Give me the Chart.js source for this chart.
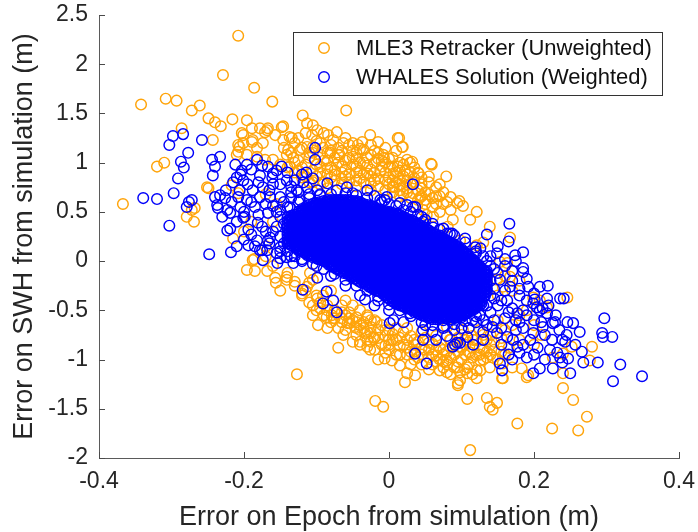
<!DOCTYPE html>
<html>
<head>
<meta charset="utf-8">
<script src="https://cdn.jsdelivr.net/npm/chart.js@4.4.1/dist/chart.umd.min.js"></script>
<style>
  html, body { margin: 0; padding: 0; background: #fff; }
  canvas { display: block; }
</style>
</head>
<body>
<canvas id="scatterChart" width="698" height="532"></canvas>
<script>
const seriesLabels = ['MLE3 Retracker (Unweighted)', 'WHALES Solution (Weighted)'];
const xTicks = [-0.4, -0.2, 0, 0.2, 0.4];
const yTicks = [-2, -1.5, -1, -0.5, 0, 0.5, 1, 1.5, 2, 2.5];

// MLE3, scattered points [epoch error, swh error]
const mle3Outer = [
  [-0.208,2.29],[-0.229,1.89],[-0.186,1.76],[-0.161,1.62],[-0.342,1.59],[-0.308,1.65],[-0.293,1.63],[-0.272,1.53],
  [-0.261,1.58],[-0.249,1.45],[-0.240,1.41],[-0.232,1.37],[-0.216,1.44],[-0.196,1.43],[-0.286,1.35],[-0.243,1.23],
  [-0.201,1.28],[-0.189,1.35],[-0.178,1.35],[-0.168,1.33],[-0.146,1.37],[-0.157,1.28],[-0.119,1.48],[-0.105,1.38],
  [-0.099,1.33],[-0.106,1.28],[-0.059,1.53],[-0.320,0.96],[-0.310,1.00],[-0.367,0.58],[-0.269,0.40],[-0.272,0.52],
  [-0.249,0.74],[-0.206,1.16],[-0.210,1.08],[-0.188,1.23],[-0.174,1.20],[-0.182,1.15],[-0.215,0.23],[-0.188,0.01],
  [-0.203,1.30],[-0.208,1.18],[-0.201,1.20],[-0.189,1.21],[-0.171,1.31],[-0.167,1.35],[-0.148,1.36],[-0.146,1.23],
  [-0.137,1.26],[-0.130,1.20],[-0.123,1.13],[-0.113,1.40],[-0.095,1.20],[-0.084,1.28],[-0.077,1.23],[-0.072,1.31],
  [-0.063,1.20],[-0.050,1.20],[-0.043,1.18],[-0.037,1.21],[-0.026,1.28],[-0.015,1.21],[-0.008,1.08],[0.012,1.25],
  [0.018,1.16],[0.025,1.03],[0.029,1.00],[0.012,0.96],[0.029,0.90],[0.006,0.89],[-0.012,0.92],[-0.030,0.89],
  [-0.040,1.00],[-0.050,1.06],[-0.068,1.08],[-0.081,1.10],[-0.091,1.15],[-0.113,1.16],[-0.132,1.05],[-0.141,1.08],
  [-0.137,0.96],[-0.150,0.98],[-0.160,1.03],[-0.171,1.03],[-0.182,1.06],[-0.196,1.08],[-0.208,1.11],[-0.251,0.75],
  [-0.268,0.54],[-0.279,0.45],[-0.134,1.25],[-0.139,1.13],[-0.217,0.77],[-0.208,0.69],[-0.196,-0.09],[-0.185,-0.10],
  [-0.168,-0.10],[-0.157,-0.17],[-0.141,-0.16],[-0.17,0.68],[-0.155,0.58],[-0.19,0.40],[-0.16,0.40],[-0.20,0.30],
  [-0.17,0.15],
  [0.014,1.25],[0.019,1.16],[-0.007,1.05],[0.032,1.01],[0.022,0.92],[0.041,0.89],[0.059,0.98],[0.079,0.86],
  [0.006,0.75],[0.015,0.72],[0.025,0.82],[0.033,0.69],[0.043,0.65],[0.050,0.62],[0.039,0.57],[0.047,0.52],
  [0.097,0.61],[0.102,0.56],[0.121,0.50],[0.112,0.42],[0.088,0.42],[0.081,0.35],[0.139,0.35],[0.167,0.24],
  [0.061,0.45],[0.052,0.47],[0.058,0.99],[0.094,0.59],[0.098,0.21],[0.121,0.16],[0.130,0.19],
  [0.153,-0.01],[0.163,-0.02],[0.167,-0.16],[0.149,-0.19],[0.157,-0.26],[0.199,-0.37],[0.208,-0.40],[0.218,-0.47],
  [0.246,-0.37],[0.280,-0.87],[0.277,-1.01],[0.240,-0.94],[0.226,-0.98],[0.252,-0.87],[0.084,-0.80],[0.098,-0.87],
  [0.112,-0.93],[0.126,-1.01],[0.139,-1.08],[0.080,-1.01],[0.094,-1.08],[0.108,-1.14],[0.121,-1.11],[0.135,-0.98],
  [0.116,-0.80],[0.080,-0.67],[0.102,-0.70],[0.157,-1.04],[0.170,-1.08],[0.183,-1.09],
  [0.240,-1.29],[0.254,-1.41],[0.273,-1.58],[0.261,-1.72],[0.225,-1.70],[0.177,-1.65],[0.112,-1.92],[0.135,-1.39],
  [0.139,-1.48],[0.143,-1.51],[0.149,-1.44],[0.108,-1.40],[-0.019,-1.42],[-0.008,-1.48],[0.192,-1.16],[0.190,-1.18],
  [0.156,-1.19],[0.095,-1.26],[0.098,-1.21],[0.240,-1.14],[-0.127,-1.15],
  [-0.098,-0.65],[-0.070,-0.88],[-0.063,-0.75],[-0.050,-0.82],[-0.054,-0.63],[-0.040,-0.70],[-0.079,-0.55],[-0.086,-0.57],
  [-0.030,-0.87],[-0.026,-0.90],[-0.006,-0.99],[0.004,-1.01],[0.015,-1.06],[0.025,-1.14],[0.022,-1.23],[0.036,-1.16],
  [0.070,-1.11],[0.080,-1.13],[0.098,-1.13],[0.095,-1.24],[0.108,-1.08],[0.126,-1.11],[0.121,-1.19],[0.143,-0.98],
  [0.157,-1.19],[-0.186,0.02],[-0.156,-0.22],[-0.141,-0.19],[-0.130,-0.21],[-0.120,-0.33],[-0.099,-0.38],[-0.091,-0.35],
  [-0.077,-0.58],[-0.109,-0.12],[-0.105,-0.19],[-0.113,-0.26],[-0.057,-0.63],[-0.047,-0.67],[-0.040,-0.85],[-0.033,-0.73],
  [-0.022,-0.77],[-0.029,-0.57],[-0.017,-0.62]
];

// MLE3, the thick clouds above and below the WHALES core
const mle3Dense = [
  [-0.11,1.05],[-0.10,0.98],[-0.09,1.02],[-0.08,0.95],[-0.07,1.00],[-0.06,0.93],[-0.05,0.98],[-0.04,0.92],
  [-0.03,0.97],[-0.02,0.90],[-0.01,0.96],[0.00,0.85],[0.01,0.80],[0.02,0.76],[0.03,0.78],[0.04,0.72],
  [0.05,0.70],[0.06,0.64],[0.07,0.66],[0.08,0.60],[-0.08,0.85],[-0.06,0.86],[-0.04,0.84],[-0.02,0.82],
  [0.00,0.78],[0.02,0.68],[0.03,0.64],[-0.09,0.80],[-0.10,0.86],[-0.12,0.95],[-0.13,0.90],[-0.11,0.80],
  [-0.07,1.08],[-0.05,1.12],[-0.03,1.05],[-0.02,1.12],[-0.01,1.02],[0.00,0.95],[0.01,0.90],[0.02,0.86],
  [-0.12,1.15],[-0.125,1.02],[-0.085,1.10],[0.04,0.62],[0.06,0.55],[0.07,0.50],[0.05,0.58],[-0.015,0.76],
  [0.005,0.70],[-0.035,0.80],[-0.055,0.80],
  [-0.145,1.15],[-0.135,1.10],[-0.125,1.25],[-0.115,1.30],[-0.105,1.10],[-0.10,1.22],[-0.09,1.30],[-0.08,1.18],
  [-0.07,1.15],[-0.06,1.25],[-0.055,1.05],[-0.045,1.10],[-0.035,1.13],[-0.025,1.18],[-0.015,1.10],[-0.005,1.15],
  [0.005,1.05],[0.01,1.12],[0.015,1.00],[0.035,0.95],[0.045,0.85],[0.055,0.80],[0.065,0.75],[0.075,0.70],
  [0.085,0.65],[0.045,0.78],[0.035,0.84],[-0.115,0.98],[-0.105,0.92],[-0.095,0.90],[-0.085,0.88],[-0.075,0.92],
  [-0.065,0.96],[-0.045,0.96],[-0.025,0.93],[-0.005,0.90],[0.005,0.82],[0.015,0.84],[-0.075,0.82],[-0.065,0.78],
  [-0.045,0.76],[-0.025,0.79],[-0.095,0.78],[-0.13,1.00],[-0.14,0.95],[-0.12,0.85],[0.025,0.70],[0.045,0.66],
  [0.065,0.58],[0.085,0.52],[0.075,0.58],
  [-0.105,1.16],[-0.095,1.08],[-0.085,1.02],[-0.075,1.05],[-0.065,1.12],[-0.055,1.18],[-0.045,1.04],[-0.035,1.00],
  [-0.025,1.08],[-0.015,1.04],[-0.005,1.00],[0.005,0.96],[0.015,0.92],[0.025,0.88],[0.035,0.80],[0.045,0.74],
  [0.055,0.68],[0.065,0.66],[-0.095,0.96],[-0.085,0.94],[-0.075,0.88],[-0.065,0.90],[-0.055,0.88],[-0.045,0.90],
  [-0.035,0.88],[-0.025,0.86],[-0.015,0.84],[-0.005,0.82],[0.005,0.76],[0.015,0.78],[0.025,0.74],[-0.065,0.84],
  [-0.045,0.82],[-0.025,0.72],[-0.005,0.72],[0.015,0.66],[-0.085,0.74],[-0.105,0.80],[-0.115,0.86],[-0.125,0.92],
  [-0.11,1.10],[-0.08,1.12],[-0.06,1.02],[-0.04,1.14],[-0.02,1.00],[0.00,1.04],[0.02,0.98],[0.04,0.90],
  [0.055,0.86],[0.07,0.78],
  [-0.12,-0.35],[-0.11,-0.42],[-0.10,-0.50],[-0.09,-0.55],[-0.08,-0.62],[-0.07,-0.68],[-0.06,-0.55],[-0.05,-0.60],
  [-0.04,-0.65],[-0.03,-0.72],[-0.02,-0.78],[-0.01,-0.85],[0.00,-0.90],[0.01,-0.80],[0.02,-0.85],[0.03,-0.92],
  [0.04,-0.98],[0.05,-0.90],[0.06,-0.95],[0.07,-1.00],[0.08,-1.05],[0.09,-0.95],[0.10,-1.00],[0.11,-1.05],
  [0.12,-0.95],[0.13,-0.90],[0.14,-0.85],[-0.06,-0.40],[-0.05,-0.45],[-0.04,-0.50],[-0.03,-0.55],[-0.02,-0.60],
  [-0.01,-0.65],[0.00,-0.70],[0.01,-0.68],[0.02,-0.72],[0.03,-0.76],[0.04,-0.82],[0.05,-0.78],[0.06,-0.84],
  [0.07,-0.88],[0.08,-0.92],[0.09,-1.08],[0.10,-0.88],[0.11,-0.92],[0.12,-0.80],[0.13,-0.75],[0.10,-0.75],
  [-0.02,-0.90],[0.00,-0.80],[-0.04,-0.82],[-0.015,-1.00],[0.03,-1.05],[0.06,-1.05],[-0.08,-0.30],[-0.10,-0.35],
  [-0.13,-0.25],[-0.14,-0.12],[-0.16,-0.05],[-0.17,0.05],[-0.15,-0.30],[-0.11,-0.22],[0.15,-0.60],[0.16,-0.70],
  [0.17,-0.65],[0.18,-0.55],[0.19,-0.50],[0.20,-0.65],[0.21,-0.75],[0.14,-0.95],[0.16,-0.95],[0.18,-0.80],
  [0.20,-0.85],[0.17,-0.30],[0.18,-0.20],[0.16,-0.15],[0.15,-0.35],
  [-0.115,-0.30],[-0.105,-0.45],[-0.095,-0.48],[-0.085,-0.45],[-0.075,-0.50],[-0.065,-0.45],[-0.055,-0.52],[-0.045,-0.57],
  [-0.035,-0.62],[-0.025,-0.67],[-0.015,-0.70],[-0.005,-0.76],[0.005,-0.74],[0.015,-0.78],[0.025,-0.80],[0.035,-0.85],
  [0.045,-0.88],[0.055,-0.83],[0.065,-0.90],[0.075,-0.95],[0.085,-0.98],[0.095,-0.92],[0.105,-0.95],[0.115,-0.98],
  [0.125,-0.88],[0.135,-0.80],[0.145,-0.90],[0.155,-0.78],[0.165,-0.88],[0.025,-0.95],[0.045,-1.05],[0.065,-1.02],
  [0.085,-1.15],[0.115,-1.15],[-0.005,-0.93],[-0.025,-0.82],[-0.045,-0.75],[-0.065,-0.62],[-0.085,-0.68],[-0.105,-0.55],
  [0.01,-0.95],[0.035,-1.00],[0.055,-1.10],[0.075,-1.08],[0.105,-1.10],[0.13,-1.00],[0.15,-1.00],[-0.06,-0.70],
  [-0.03,-0.80],[0.00,-0.85],
  [-0.095,-0.42],[-0.085,-0.50],[-0.075,-0.58],[-0.065,-0.52],[-0.055,-0.58],[-0.045,-0.62],[-0.035,-0.68],[-0.025,-0.73],
  [-0.015,-0.78],[-0.005,-0.70],[0.005,-0.80],[0.015,-0.86],[0.025,-0.88],[0.035,-0.92],[0.045,-0.95],[0.055,-0.98],
  [0.065,-0.96],[0.075,-0.90],[0.085,-0.88],[0.095,-1.02],[0.105,-0.85],[0.115,-0.88],[0.125,-0.95],[0.135,-0.92],
  [0.145,-0.82],[0.155,-0.92],[-0.005,-0.86],[0.015,-0.95],[0.035,-0.80],[0.055,-0.90],[0.075,-1.02],[0.095,-0.78],
  [0.115,-0.76],[-0.045,-0.68],[-0.025,-0.60],[-0.065,-0.58],[0.025,-0.68],[0.045,-0.72],[0.065,-0.76],[0.085,-0.80],
  [0.105,-0.80],[0.125,-0.70],[0.14,-0.75]
];

// WHALES, scattered points around the core
const whalesOuter = [
  [-0.339,0.64],[-0.320,0.63],[-0.303,0.36],[-0.297,0.69],[-0.291,0.84],[-0.283,0.95],[-0.287,1.01],[-0.277,1.10],
  [-0.303,1.18],[-0.298,1.27],[-0.284,1.29],[-0.258,1.23],[-0.276,0.60],[-0.272,0.62],[-0.279,0.55],[-0.248,0.07],
  [-0.218,0.09],[-0.244,1.03],[-0.233,1.06],[-0.240,0.96],[-0.243,0.87],[-0.240,0.65],[-0.233,0.67],[-0.236,0.54],
  [-0.219,0.49],[-0.223,0.31],[-0.212,0.98],[-0.203,0.92],[-0.196,0.98],[-0.182,1.03],[-0.167,0.96],[-0.148,0.96],
  [-0.210,0.85],[-0.201,0.82],[-0.178,0.87],[-0.161,0.85],[-0.141,0.82],[-0.226,0.64],[-0.217,0.60],[-0.208,0.65],
  [-0.219,0.33],[-0.201,0.44],[-0.194,0.32],[-0.194,0.16],[-0.175,0.11],[-0.167,0.21],[-0.102,1.15],[-0.102,1.03],
  [-0.114,0.90],[-0.237,0.57],[-0.223,0.52],[-0.206,0.72],[-0.196,0.62],[-0.188,0.72],[-0.174,0.75],[-0.178,0.65],
  [-0.164,0.65],[-0.199,0.45],[-0.181,0.39],[-0.167,0.49],[-0.150,0.45],[-0.137,0.55],[-0.123,0.62],[-0.127,0.72],
  [-0.113,0.75],[-0.099,0.72],[-0.085,0.79],[-0.072,0.72],[-0.058,0.75],[-0.050,0.69],[-0.030,0.72],[-0.012,0.62],
  [-0.003,0.65],[0.015,0.59],[0.033,0.55],[-0.182,0.21],[-0.164,0.24],[-0.168,0.11],[-0.150,0.14],[-0.141,0.04],
  [-0.174,0.01],[-0.154,-0.02],[-0.160,0.56],[-0.155,0.35],[-0.170,0.30],[-0.185,0.55],[-0.150,0.65],[-0.135,0.70],
  [-0.160,0.78],[-0.130,0.82],[-0.120,0.88],[-0.150,0.25],[-0.145,0.60],[-0.205,0.55],[-0.190,0.27],[-0.020,0.66],
  [0.000,0.58],[0.020,0.52],[0.040,0.47],[0.050,0.42],[-0.160,0.89],
  [-0.215,0.80],[-0.205,0.88],[-0.19,0.93],[-0.175,0.97],[-0.155,0.92],[-0.14,0.90],[-0.225,0.72],[-0.195,0.78],
  [-0.18,0.80],[-0.165,0.72],[-0.15,0.78],[-0.135,0.76],[-0.23,0.45],[-0.21,0.40],[-0.20,0.50],[-0.18,0.47],
  [-0.17,0.58],[-0.19,0.60],[-0.175,0.35],[-0.16,0.30],[-0.145,0.38],[-0.185,0.15],[-0.165,0.18],[-0.155,0.08],
  [-0.20,0.22],[-0.21,0.15],[-0.145,0.18],[-0.14,0.10],[-0.13,0.05],[-0.125,0.70],[-0.11,0.68],[-0.095,0.67],
  [-0.155,0.50],[-0.135,0.64],[-0.118,0.80],[-0.105,0.84],
  [-0.15,0.52],[-0.14,0.55],[-0.125,0.60],[-0.11,0.64],[-0.095,0.68],[-0.08,0.68],[-0.06,0.69],[-0.045,0.67],
  [-0.03,0.64],[-0.01,0.60],[0.01,0.56],[0.03,0.50],[0.045,0.45],[0.06,0.38],[0.075,0.33],[0.09,0.26],
  [0.105,0.19],[0.12,0.08],[0.135,0.00],[0.145,-0.08],
  [-0.15,0.10],[-0.135,0.05],[-0.12,0.02],[-0.105,-0.03],[-0.09,-0.08],[-0.075,-0.13],[-0.06,-0.19],[-0.045,-0.25],
  [-0.03,-0.30],[-0.015,-0.36],[0.00,-0.44],[0.015,-0.50],[0.03,-0.56],[0.045,-0.62],[0.06,-0.65],[0.075,-0.66],
  [0.09,-0.64],[0.105,-0.61],[0.12,-0.56],[0.135,-0.45],[0.145,-0.38],
  [0.166,0.38],[0.135,0.27],[0.149,0.08],[0.185,0.09],[0.174,0.06],[0.185,-0.07],[0.185,-0.11],[0.192,-0.26],
  [0.208,-0.26],[0.219,-0.25],[0.218,-0.38],[0.201,-0.39],[0.204,-0.47],[0.212,-0.48],[0.236,-0.38],[0.241,-0.38],
  [0.297,-0.58],[0.294,-0.73],[0.308,-0.77],[0.295,-0.77],[0.319,-1.05],[0.349,-1.17],[0.309,-1.22],[0.263,-0.72],
  [0.254,-0.63],[0.246,-0.62],[0.229,-0.62],[0.239,-0.80],[0.243,-0.82],[0.257,-0.85],[0.266,-0.92],[0.232,-0.93],
  [0.236,-0.98],[0.247,-0.99],[0.222,-0.90],[0.268,-1.03],[0.288,-1.03],[0.208,-1.09],[0.199,-1.14],[0.250,-1.14],
  [0.153,-1.04],[0.156,-1.11],[0.170,-1.00],[0.190,-0.98],[0.177,-0.87],[0.171,-0.80],[0.163,-0.77],[0.185,-0.50],
  [0.199,-0.43],[0.208,-0.50],[0.218,-0.53],[0.226,-0.63],[0.212,-0.67],[0.199,-0.73],[0.130,-0.72],[0.149,-0.73],
  [0.143,-0.67],[0.130,-0.60],[0.116,-0.85],[0.098,-0.83],[0.088,-0.87],[0.177,-0.53],[0.163,-0.40],[0.167,-0.26],
  [0.153,-0.19],[0.105,0.23],[0.119,0.14],[0.126,0.13],[0.080,0.28],[0.087,0.28],[0.052,-1.04],[0.036,-0.94],
  [0.091,-0.85],[0.108,-0.77],[0.001,-0.63],[0.029,-0.53],[0.047,-0.70],[0.239,-1.03],[0.226,-1.09],[0.033,0.78],
  [0.036,0.55],[0.025,0.57],[0.047,0.40],[-0.006,0.62],[0.015,0.47],[0.061,0.34],[0.070,0.32],[0.084,0.28],
  [0.14,-0.05],[0.15,-0.12],[0.16,-0.30],[0.14,-0.35],[0.15,-0.45],[0.17,-0.48],[0.16,-0.58],[0.18,-0.62],
  [0.14,-0.52],[0.12,-0.62],[0.11,-0.68],[0.13,-0.45],[0.14,-0.20],[0.17,-0.10],[0.16,0.02],[0.13,0.05],
  [0.12,0.10],[0.18,-0.35],[0.19,-0.55],[0.20,-0.60],[0.175,-0.70],[0.155,-0.85],[0.13,-0.80],[0.19,-0.18],
  [0.10,-0.68],[0.09,-0.70],[0.075,-0.68],[0.06,-0.72],[0.05,-0.65],[0.02,-0.62],[0.00,-0.50],[-0.02,-0.45],
  [-0.04,-0.35],[-0.06,-0.25],[-0.08,-0.15],[-0.10,-0.05],[-0.12,0.00],[0.065,-0.80],[0.08,-0.76],
  [0.135,-0.10],[0.145,-0.28],[0.155,-0.40],[0.165,-0.52],[0.175,-0.60],[0.185,-0.68],[0.195,-0.80],[0.205,-0.88],
  [0.215,-0.75],[0.225,-0.80],[0.235,-0.70],[0.245,-0.75],[0.17,-0.20],[0.18,-0.28],[0.19,-0.40],[0.20,-0.33],
  [0.21,-0.62],[0.22,-0.45],[0.23,-0.55],[0.145,-0.60],[0.155,-0.68],[0.125,-0.55],[0.115,-0.60],[0.135,-0.65],
  [0.16,-0.05],[0.175,0.00],[0.15,0.15],[0.165,0.20],[0.14,0.05],[0.185,-0.85],[0.20,-0.95],[0.215,-1.00],
  [0.18,-0.93],[0.165,-0.95],
  [-0.072,-0.52],[-0.091,-0.43],[0.006,-0.60],[0.047,-0.80],[0.094,-0.83],[-0.119,-0.29],[-0.099,-0.17],[-0.077,-0.40],
  [-0.086,-0.31],[-0.033,-0.39],[-0.015,-0.40],[-0.150,0.03],[-0.132,-0.02],[-0.178,0.11]
];

// WHALES, the solid core: each row is [epoch error, list of swh errors]
const whalesCore = [
  [-0.14, [0.44,0.41,0.37,0.34,0.30,0.27,0.23,0.20,0.18]],
  [-0.135, [0.46,0.44,0.41,0.37,0.34,0.30,0.27,0.23,0.20,0.16]],
  [-0.13, [0.47,0.44,0.40,0.37,0.33,0.30,0.26,0.23,0.19,0.16,0.14]],
  [-0.125, [0.50,0.48,0.45,0.41,0.38,0.34,0.31,0.27,0.24,0.20,0.17,0.13,0.11]],
  [-0.12, [0.53,0.50,0.46,0.43,0.39,0.36,0.32,0.29,0.25,0.22,0.18,0.15,0.11]],
  [-0.115, [0.55,0.53,0.50,0.46,0.43,0.39,0.36,0.32,0.29,0.25,0.22,0.18,0.15,0.11,0.08]],
  [-0.11, [0.57,0.54,0.50,0.47,0.43,0.40,0.36,0.33,0.29,0.26,0.22,0.19,0.15,0.12,0.08,0.06]],
  [-0.105, [0.58,0.56,0.53,0.49,0.46,0.42,0.39,0.35,0.32,0.28,0.25,0.21,0.18,0.14,0.11,0.07,0.04]],
  [-0.10, [0.59,0.56,0.52,0.49,0.45,0.42,0.38,0.35,0.31,0.28,0.24,0.21,0.17,0.14,0.10,0.07,0.03]],
  [-0.095, [0.60,0.58,0.55,0.51,0.48,0.44,0.41,0.37,0.34,0.30,0.27,0.23,0.20,0.16,0.13,0.09,0.06,0.02]],
  [-0.09, [0.61,0.58,0.54,0.51,0.47,0.44,0.40,0.37,0.33,0.30,0.26,0.23,0.19,0.16,0.12,0.09,0.05,0.02,0.00]],
  [-0.085, [0.62,0.60,0.57,0.53,0.50,0.46,0.43,0.39,0.36,0.32,0.29,0.25,0.22,0.18,0.15,0.11,0.08,0.04,0.01,-0.02]],
  [-0.08, [0.62,0.59,0.55,0.52,0.48,0.45,0.41,0.38,0.34,0.31,0.27,0.24,0.20,0.17,0.13,0.10,0.06,0.03,-0.01,-0.04]],
  [-0.075, [0.62,0.60,0.57,0.53,0.50,0.46,0.43,0.39,0.36,0.32,0.29,0.25,0.22,0.18,0.15,0.11,0.08,0.04,0.01,-0.03,-0.06]],
  [-0.07, [0.62,0.59,0.55,0.52,0.48,0.45,0.41,0.38,0.34,0.31,0.27,0.24,0.20,0.17,0.13,0.10,0.06,0.03,-0.01,-0.04,-0.08]],
  [-0.065, [0.62,0.60,0.57,0.53,0.50,0.46,0.43,0.39,0.36,0.32,0.29,0.25,0.22,0.18,0.15,0.11,0.08,0.04,0.01,-0.03,-0.06,-0.10]],
  [-0.06, [0.62,0.59,0.55,0.52,0.48,0.45,0.41,0.38,0.34,0.31,0.27,0.24,0.20,0.17,0.13,0.10,0.06,0.03,-0.01,-0.04,-0.08,-0.11]],
  [-0.055, [0.62,0.60,0.57,0.53,0.50,0.46,0.43,0.39,0.36,0.32,0.29,0.25,0.22,0.18,0.15,0.11,0.08,0.04,0.01,-0.03,-0.06,-0.10,-0.13]],
  [-0.05, [0.61,0.58,0.54,0.51,0.47,0.44,0.40,0.37,0.33,0.30,0.26,0.23,0.19,0.16,0.12,0.09,0.05,0.02,-0.02,-0.05,-0.09,-0.12,-0.16]],
  [-0.045, [0.61,0.59,0.56,0.52,0.49,0.45,0.42,0.38,0.35,0.31,0.28,0.24,0.21,0.17,0.14,0.10,0.07,0.03,0.00,-0.04,-0.07,-0.11,-0.14,-0.18]],
  [-0.04, [0.60,0.57,0.53,0.50,0.46,0.43,0.39,0.36,0.32,0.29,0.25,0.22,0.18,0.15,0.11,0.08,0.04,0.01,-0.03,-0.06,-0.10,-0.13,-0.17,-0.21]],
  [-0.035, [0.58,0.56,0.53,0.49,0.46,0.42,0.39,0.35,0.32,0.28,0.25,0.21,0.18,0.14,0.11,0.07,0.04,0.00,-0.03,-0.07,-0.10,-0.14,-0.17,-0.21]],
  [-0.03, [0.57,0.54,0.50,0.47,0.43,0.40,0.36,0.33,0.29,0.26,0.22,0.19,0.15,0.12,0.08,0.05,0.01,-0.02,-0.06,-0.09,-0.13,-0.16,-0.20,-0.24]],
  [-0.025, [0.56,0.54,0.51,0.47,0.44,0.40,0.37,0.33,0.30,0.26,0.23,0.19,0.16,0.12,0.09,0.05,0.02,-0.02,-0.05,-0.09,-0.12,-0.16,-0.19,-0.23,-0.26]],
  [-0.02, [0.55,0.52,0.48,0.45,0.41,0.38,0.34,0.31,0.27,0.24,0.20,0.17,0.13,0.10,0.06,0.03,-0.01,-0.04,-0.08,-0.11,-0.15,-0.18,-0.22,-0.25,-0.28]],
  [-0.015, [0.53,0.51,0.48,0.44,0.41,0.37,0.34,0.30,0.27,0.23,0.20,0.16,0.13,0.09,0.06,0.02,-0.01,-0.05,-0.08,-0.12,-0.15,-0.19,-0.22,-0.26,-0.30]],
  [-0.01, [0.52,0.49,0.45,0.42,0.38,0.35,0.31,0.28,0.24,0.21,0.17,0.14,0.10,0.07,0.03,0.00,-0.04,-0.07,-0.11,-0.14,-0.18,-0.21,-0.25,-0.28,-0.32]],
  [-0.005, [0.51,0.49,0.46,0.42,0.39,0.35,0.32,0.28,0.25,0.21,0.18,0.14,0.11,0.07,0.04,0.00,-0.03,-0.07,-0.10,-0.14,-0.17,-0.21,-0.24,-0.28,-0.31,-0.35]],
  [0.00, [0.50,0.47,0.43,0.40,0.36,0.33,0.29,0.26,0.22,0.19,0.15,0.12,0.08,0.05,0.01,-0.02,-0.06,-0.09,-0.13,-0.16,-0.20,-0.23,-0.27,-0.30,-0.34,-0.38]],
  [0.005, [0.49,0.47,0.44,0.40,0.37,0.33,0.30,0.26,0.23,0.19,0.16,0.12,0.09,0.05,0.02,-0.02,-0.05,-0.09,-0.12,-0.16,-0.19,-0.23,-0.26,-0.30,-0.33,-0.37,-0.41]],
  [0.01, [0.48,0.45,0.41,0.38,0.34,0.31,0.27,0.24,0.20,0.17,0.13,0.10,0.06,0.03,-0.01,-0.04,-0.08,-0.11,-0.15,-0.18,-0.22,-0.25,-0.29,-0.32,-0.36,-0.39,-0.43]],
  [0.015, [0.46,0.44,0.41,0.37,0.34,0.30,0.27,0.23,0.20,0.16,0.13,0.09,0.06,0.02,-0.01,-0.05,-0.08,-0.12,-0.15,-0.19,-0.22,-0.26,-0.29,-0.33,-0.36,-0.40,-0.43,-0.45]],
  [0.02, [0.45,0.42,0.38,0.35,0.31,0.28,0.24,0.21,0.17,0.14,0.10,0.07,0.03,0.00,-0.04,-0.07,-0.11,-0.14,-0.18,-0.21,-0.25,-0.28,-0.32,-0.35,-0.39,-0.42,-0.46]],
  [0.025, [0.43,0.41,0.38,0.34,0.31,0.27,0.24,0.20,0.17,0.13,0.10,0.06,0.03,-0.01,-0.04,-0.08,-0.11,-0.15,-0.18,-0.22,-0.25,-0.29,-0.32,-0.36,-0.39,-0.43,-0.46,-0.48]],
  [0.03, [0.42,0.39,0.35,0.32,0.28,0.25,0.21,0.18,0.14,0.11,0.07,0.04,0.00,-0.03,-0.07,-0.10,-0.14,-0.17,-0.21,-0.24,-0.28,-0.31,-0.35,-0.38,-0.42,-0.45,-0.49]],
  [0.035, [0.40,0.38,0.35,0.31,0.28,0.24,0.21,0.17,0.14,0.10,0.07,0.03,0.00,-0.04,-0.07,-0.11,-0.14,-0.18,-0.21,-0.25,-0.28,-0.32,-0.35,-0.39,-0.42,-0.46,-0.49,-0.52]],
  [0.04, [0.38,0.35,0.31,0.28,0.24,0.21,0.17,0.14,0.10,0.07,0.03,0.00,-0.04,-0.07,-0.11,-0.14,-0.18,-0.21,-0.25,-0.28,-0.32,-0.35,-0.39,-0.42,-0.46,-0.49,-0.53]],
  [0.045, [0.36,0.34,0.31,0.27,0.24,0.20,0.17,0.13,0.10,0.06,0.03,-0.01,-0.04,-0.08,-0.11,-0.15,-0.18,-0.22,-0.25,-0.29,-0.32,-0.36,-0.39,-0.43,-0.46,-0.50,-0.53,-0.55]],
  [0.05, [0.34,0.31,0.27,0.24,0.20,0.17,0.13,0.10,0.06,0.03,-0.01,-0.04,-0.08,-0.11,-0.15,-0.18,-0.22,-0.25,-0.29,-0.32,-0.36,-0.39,-0.43,-0.46,-0.50,-0.53,-0.56]],
  [0.055, [0.31,0.29,0.26,0.22,0.19,0.15,0.12,0.08,0.05,0.01,-0.02,-0.06,-0.09,-0.13,-0.16,-0.20,-0.23,-0.27,-0.30,-0.34,-0.37,-0.41,-0.44,-0.48,-0.51,-0.55,-0.58]],
  [0.06, [0.29,0.26,0.22,0.19,0.15,0.12,0.08,0.05,0.01,-0.02,-0.06,-0.09,-0.13,-0.16,-0.20,-0.23,-0.27,-0.30,-0.34,-0.37,-0.41,-0.44,-0.48,-0.51,-0.55,-0.59]],
  [0.065, [0.27,0.25,0.22,0.18,0.15,0.11,0.08,0.04,0.01,-0.03,-0.06,-0.10,-0.13,-0.17,-0.20,-0.24,-0.27,-0.31,-0.34,-0.38,-0.41,-0.45,-0.48,-0.52,-0.55,-0.59]],
  [0.07, [0.26,0.23,0.19,0.16,0.12,0.09,0.05,0.02,-0.02,-0.05,-0.09,-0.12,-0.16,-0.19,-0.23,-0.26,-0.30,-0.33,-0.37,-0.40,-0.44,-0.47,-0.51,-0.54,-0.58]],
  [0.075, [0.23,0.21,0.18,0.14,0.11,0.07,0.04,0.00,-0.03,-0.07,-0.10,-0.14,-0.17,-0.21,-0.24,-0.28,-0.31,-0.35,-0.38,-0.42,-0.45,-0.49,-0.52,-0.56,-0.60]],
  [0.08, [0.21,0.18,0.14,0.11,0.07,0.04,0.00,-0.03,-0.07,-0.10,-0.14,-0.17,-0.21,-0.24,-0.28,-0.31,-0.35,-0.38,-0.42,-0.45,-0.49,-0.52,-0.56,-0.58]],
  [0.085, [0.19,0.17,0.14,0.10,0.07,0.03,0.00,-0.04,-0.07,-0.11,-0.14,-0.18,-0.21,-0.25,-0.28,-0.32,-0.35,-0.39,-0.42,-0.46,-0.49,-0.53,-0.56,-0.59]],
  [0.09, [0.17,0.14,0.10,0.07,0.03,0.00,-0.04,-0.07,-0.11,-0.14,-0.18,-0.21,-0.25,-0.28,-0.32,-0.35,-0.39,-0.42,-0.46,-0.49,-0.53,-0.56,-0.58]],
  [0.095, [0.14,0.12,0.09,0.05,0.02,-0.02,-0.05,-0.09,-0.12,-0.16,-0.19,-0.23,-0.26,-0.30,-0.33,-0.37,-0.40,-0.44,-0.47,-0.51,-0.54,-0.57]],
  [0.10, [0.12,0.09,0.05,0.02,-0.02,-0.05,-0.09,-0.12,-0.16,-0.19,-0.23,-0.26,-0.30,-0.33,-0.37,-0.40,-0.44,-0.47,-0.51,-0.54,-0.57]],
  [0.105, [0.09,0.07,0.04,0.00,-0.03,-0.07,-0.10,-0.14,-0.17,-0.21,-0.24,-0.28,-0.31,-0.35,-0.38,-0.42,-0.45,-0.49,-0.52,-0.54]],
  [0.11, [0.05,0.02,-0.02,-0.05,-0.09,-0.12,-0.16,-0.19,-0.23,-0.26,-0.30,-0.33,-0.37,-0.40,-0.44,-0.47,-0.51]],
  [0.115, [0.02,0.00,-0.03,-0.07,-0.10,-0.14,-0.17,-0.21,-0.24,-0.28,-0.31,-0.35,-0.38,-0.42,-0.45,-0.49]],
  [0.12, [-0.02,-0.05,-0.09,-0.12,-0.16,-0.19,-0.23,-0.26,-0.30,-0.33,-0.37,-0.40,-0.44,-0.47]],
  [0.125, [-0.05,-0.07,-0.10,-0.14,-0.17,-0.21,-0.24,-0.28,-0.31,-0.35,-0.38,-0.42,-0.45]],
  [0.13, [-0.09,-0.12,-0.16,-0.19,-0.23,-0.26,-0.30,-0.33,-0.37]],
  [0.135, [-0.12,-0.14,-0.17,-0.21,-0.24,-0.28,-0.31]]
];

// WHALES, more points packed in between the core rows (the core is solid in the picture)
const whalesCoreFill = [
  [-0.1375, [0.42,0.39,0.35,0.32,0.28,0.25,0.21,0.18]],
  [-0.1325, [0.44,0.42,0.39,0.35,0.32,0.28,0.25,0.21,0.18]],
  [-0.1275, [0.45,0.42,0.38,0.35,0.31,0.28,0.24,0.21,0.17,0.14]],
  [-0.1225, [0.48,0.46,0.43,0.39,0.36,0.32,0.29,0.25,0.22,0.18,0.15,0.11]],
  [-0.1175, [0.51,0.48,0.44,0.41,0.37,0.34,0.30,0.27,0.23,0.20,0.16,0.13,0.09]],
  [-0.1125, [0.53,0.51,0.48,0.44,0.41,0.37,0.34,0.30,0.27,0.23,0.20,0.16,0.13,0.09,0.06]],
  [-0.1075, [0.55,0.52,0.48,0.45,0.41,0.38,0.34,0.31,0.27,0.24,0.20,0.17,0.13,0.10,0.06]],
  [-0.1025, [0.56,0.54,0.51,0.47,0.44,0.40,0.37,0.33,0.30,0.26,0.23,0.19,0.16,0.12,0.09,0.05]],
  [-0.0975, [0.57,0.54,0.50,0.47,0.43,0.40,0.36,0.33,0.29,0.26,0.22,0.19,0.15,0.12,0.08,0.05,0.02]],
  [-0.0925, [0.58,0.56,0.53,0.49,0.46,0.42,0.39,0.35,0.32,0.28,0.25,0.21,0.18,0.14,0.11,0.07,0.04,0.01]],
  [-0.0875, [0.59,0.56,0.52,0.49,0.45,0.42,0.38,0.35,0.31,0.28,0.24,0.21,0.17,0.14,0.10,0.07,0.03,0.00]],
  [-0.0825, [0.60,0.58,0.55,0.51,0.48,0.44,0.41,0.37,0.34,0.30,0.27,0.23,0.20,0.16,0.13,0.09,0.06,0.02,-0.01,-0.04]],
  [-0.0775, [0.60,0.57,0.53,0.50,0.46,0.43,0.39,0.36,0.32,0.29,0.25,0.22,0.18,0.15,0.11,0.08,0.04,0.01,-0.03,-0.06]],
  [-0.0725, [0.60,0.58,0.55,0.51,0.48,0.44,0.41,0.37,0.34,0.30,0.27,0.23,0.20,0.16,0.13,0.09,0.06,0.02,-0.01,-0.05,-0.08]],
  [-0.0675, [0.60,0.57,0.53,0.50,0.46,0.43,0.39,0.36,0.32,0.29,0.25,0.22,0.18,0.15,0.11,0.08,0.04,0.01,-0.03,-0.06,-0.10]],
  [-0.0625, [0.60,0.58,0.55,0.51,0.48,0.44,0.41,0.37,0.34,0.30,0.27,0.23,0.20,0.16,0.13,0.09,0.06,0.02,-0.01,-0.05,-0.08,-0.12]],
  [-0.0575, [0.60,0.57,0.53,0.50,0.46,0.43,0.39,0.36,0.32,0.29,0.25,0.22,0.18,0.15,0.11,0.08,0.04,0.01,-0.03,-0.06,-0.10,-0.13]],
  [-0.0525, [0.60,0.58,0.55,0.51,0.48,0.44,0.41,0.37,0.34,0.30,0.27,0.23,0.20,0.16,0.13,0.09,0.06,0.02,-0.01,-0.05,-0.08,-0.12,-0.15]],
  [-0.0475, [0.59,0.56,0.52,0.49,0.45,0.42,0.38,0.35,0.31,0.28,0.24,0.21,0.17,0.14,0.10,0.07,0.03,0.00,-0.04,-0.07,-0.11,-0.14,-0.18]],
  [-0.0425, [0.59,0.57,0.54,0.50,0.47,0.43,0.40,0.36,0.33,0.29,0.26,0.22,0.19,0.15,0.12,0.08,0.05,0.01,-0.02,-0.06,-0.09,-0.13,-0.16,-0.20]],
  [-0.0375, [0.58,0.55,0.51,0.48,0.44,0.41,0.37,0.34,0.30,0.27,0.23,0.20,0.16,0.13,0.09,0.06,0.02,-0.01,-0.05,-0.08,-0.12,-0.15,-0.19,-0.22]],
  [-0.0325, [0.56,0.54,0.51,0.47,0.44,0.40,0.37,0.33,0.30,0.26,0.23,0.19,0.16,0.12,0.09,0.05,0.02,-0.02,-0.05,-0.09,-0.12,-0.16,-0.19,-0.23]],
  [-0.0275, [0.55,0.52,0.48,0.45,0.41,0.38,0.34,0.31,0.27,0.24,0.20,0.17,0.13,0.10,0.06,0.03,-0.01,-0.04,-0.08,-0.11,-0.15,-0.18,-0.22,-0.26]],
  [-0.0225, [0.54,0.52,0.49,0.45,0.42,0.38,0.35,0.31,0.28,0.24,0.21,0.17,0.14,0.10,0.07,0.03,0.00,-0.04,-0.07,-0.11,-0.14,-0.18,-0.21,-0.25,-0.28]],
  [-0.0175, [0.53,0.50,0.46,0.43,0.39,0.36,0.32,0.29,0.25,0.22,0.18,0.15,0.11,0.08,0.04,0.01,-0.03,-0.06,-0.10,-0.13,-0.17,-0.20,-0.24,-0.27,-0.30]],
  [-0.0125, [0.51,0.49,0.46,0.42,0.39,0.35,0.32,0.28,0.25,0.21,0.18,0.14,0.11,0.07,0.04,0.00,-0.03,-0.07,-0.10,-0.14,-0.17,-0.21,-0.24,-0.28,-0.31]],
  [-0.0075, [0.50,0.47,0.43,0.40,0.36,0.33,0.29,0.26,0.22,0.19,0.15,0.12,0.08,0.05,0.01,-0.02,-0.06,-0.09,-0.13,-0.16,-0.20,-0.23,-0.27,-0.30,-0.34]],
  [-0.0025, [0.49,0.47,0.44,0.40,0.37,0.33,0.30,0.26,0.23,0.19,0.16,0.12,0.09,0.05,0.02,-0.02,-0.05,-0.09,-0.12,-0.16,-0.19,-0.23,-0.26,-0.30,-0.33,-0.37]],
  [0.0025, [0.48,0.45,0.41,0.38,0.34,0.31,0.27,0.24,0.20,0.17,0.13,0.10,0.06,0.03,-0.01,-0.04,-0.08,-0.11,-0.15,-0.18,-0.22,-0.25,-0.29,-0.32,-0.36,-0.40]],
  [0.0075, [0.47,0.45,0.42,0.38,0.35,0.31,0.28,0.24,0.21,0.17,0.14,0.10,0.07,0.03,0.00,-0.04,-0.07,-0.11,-0.14,-0.18,-0.21,-0.25,-0.28,-0.32,-0.35,-0.39,-0.42]],
  [0.0125, [0.46,0.43,0.39,0.36,0.32,0.29,0.25,0.22,0.18,0.15,0.11,0.08,0.04,0.01,-0.03,-0.06,-0.10,-0.13,-0.17,-0.20,-0.24,-0.27,-0.31,-0.34,-0.38,-0.41,-0.44]],
  [0.0175, [0.44,0.42,0.39,0.35,0.32,0.28,0.25,0.21,0.18,0.14,0.11,0.07,0.04,0.00,-0.03,-0.07,-0.10,-0.14,-0.17,-0.21,-0.24,-0.28,-0.31,-0.35,-0.38,-0.42,-0.45]],
  [0.0225, [0.43,0.40,0.36,0.33,0.29,0.26,0.22,0.19,0.15,0.12,0.08,0.05,0.01,-0.02,-0.06,-0.09,-0.13,-0.16,-0.20,-0.23,-0.27,-0.30,-0.34,-0.37,-0.41,-0.44,-0.47]],
  [0.0275, [0.41,0.39,0.36,0.32,0.29,0.25,0.22,0.18,0.15,0.11,0.08,0.04,0.01,-0.03,-0.06,-0.10,-0.13,-0.17,-0.20,-0.24,-0.27,-0.31,-0.34,-0.38,-0.41,-0.45,-0.48]],
  [0.0325, [0.40,0.37,0.33,0.30,0.26,0.23,0.19,0.16,0.12,0.09,0.05,0.02,-0.02,-0.05,-0.09,-0.12,-0.16,-0.19,-0.23,-0.26,-0.30,-0.33,-0.37,-0.40,-0.44,-0.47,-0.50]],
  [0.0375, [0.38,0.36,0.33,0.29,0.26,0.22,0.19,0.15,0.12,0.08,0.05,0.01,-0.02,-0.06,-0.09,-0.13,-0.16,-0.20,-0.23,-0.27,-0.30,-0.34,-0.37,-0.41,-0.44,-0.48,-0.51]],
  [0.0425, [0.36,0.33,0.29,0.26,0.22,0.19,0.15,0.12,0.08,0.05,0.01,-0.02,-0.06,-0.09,-0.13,-0.16,-0.20,-0.23,-0.27,-0.30,-0.34,-0.37,-0.41,-0.44,-0.48,-0.51,-0.54]],
  [0.0475, [0.34,0.32,0.29,0.25,0.22,0.18,0.15,0.11,0.08,0.04,0.01,-0.03,-0.06,-0.10,-0.13,-0.17,-0.20,-0.24,-0.27,-0.31,-0.34,-0.38,-0.41,-0.45,-0.48,-0.52,-0.55]],
  [0.0525, [0.32,0.29,0.25,0.22,0.18,0.15,0.11,0.08,0.04,0.01,-0.03,-0.06,-0.10,-0.13,-0.17,-0.20,-0.24,-0.27,-0.31,-0.34,-0.38,-0.41,-0.45,-0.48,-0.52,-0.55]],
  [0.0575, [0.29,0.27,0.24,0.20,0.17,0.13,0.10,0.06,0.03,-0.01,-0.04,-0.08,-0.11,-0.15,-0.18,-0.22,-0.25,-0.29,-0.32,-0.36,-0.39,-0.43,-0.46,-0.50,-0.53,-0.57]],
  [0.0625, [0.27,0.24,0.20,0.17,0.13,0.10,0.06,0.03,-0.01,-0.04,-0.08,-0.11,-0.15,-0.18,-0.22,-0.25,-0.29,-0.32,-0.36,-0.39,-0.43,-0.46,-0.50,-0.53,-0.57]],
  [0.0675, [0.25,0.23,0.20,0.16,0.13,0.09,0.06,0.02,-0.01,-0.05,-0.08,-0.12,-0.15,-0.19,-0.22,-0.26,-0.29,-0.33,-0.36,-0.40,-0.43,-0.47,-0.50,-0.54,-0.57]],
  [0.0725, [0.24,0.21,0.17,0.14,0.10,0.07,0.03,0.00,-0.04,-0.07,-0.11,-0.14,-0.18,-0.21,-0.25,-0.28,-0.32,-0.35,-0.39,-0.42,-0.46,-0.49,-0.53,-0.56]],
  [0.0775, [0.21,0.19,0.16,0.12,0.09,0.05,0.02,-0.02,-0.05,-0.09,-0.12,-0.16,-0.19,-0.23,-0.26,-0.30,-0.33,-0.37,-0.40,-0.44,-0.47,-0.51,-0.54,-0.58]],
  [0.0825, [0.19,0.16,0.12,0.09,0.05,0.02,-0.02,-0.05,-0.09,-0.12,-0.16,-0.19,-0.23,-0.26,-0.30,-0.33,-0.37,-0.40,-0.44,-0.47,-0.51,-0.54,-0.57]],
  [0.0875, [0.17,0.15,0.12,0.08,0.05,0.01,-0.02,-0.06,-0.09,-0.13,-0.16,-0.20,-0.23,-0.27,-0.30,-0.34,-0.37,-0.41,-0.44,-0.48,-0.51,-0.55,-0.57]],
  [0.0925, [0.15,0.12,0.08,0.05,0.01,-0.02,-0.06,-0.09,-0.13,-0.16,-0.20,-0.23,-0.27,-0.30,-0.34,-0.37,-0.41,-0.44,-0.48,-0.51,-0.55,-0.57]],
  [0.0975, [0.12,0.10,0.07,0.03,0.00,-0.04,-0.07,-0.11,-0.14,-0.18,-0.21,-0.25,-0.28,-0.32,-0.35,-0.39,-0.42,-0.46,-0.49,-0.53,-0.56]],
  [0.1025, [0.10,0.07,0.03,0.00,-0.04,-0.07,-0.11,-0.14,-0.18,-0.21,-0.25,-0.28,-0.32,-0.35,-0.39,-0.42,-0.46,-0.49,-0.53,-0.55]],
  [0.1075, [0.07,0.05,0.02,-0.02,-0.05,-0.09,-0.12,-0.16,-0.19,-0.23,-0.26,-0.30,-0.33,-0.37,-0.40,-0.44,-0.47,-0.51,-0.53]],
  [0.1125, [0.03,0.00,-0.04,-0.07,-0.11,-0.14,-0.18,-0.21,-0.25,-0.28,-0.32,-0.35,-0.39,-0.42,-0.46,-0.49,-0.51]],
  [0.1175, [0.00,-0.02,-0.05,-0.09,-0.12,-0.16,-0.19,-0.23,-0.26,-0.30,-0.33,-0.37,-0.40,-0.44,-0.47,-0.49]],
  [0.1225, [-0.04,-0.07,-0.11,-0.14,-0.18,-0.21,-0.25,-0.28,-0.32,-0.35,-0.39,-0.42,-0.45]],
  [0.1275, [-0.07,-0.09,-0.12,-0.16,-0.19,-0.23,-0.26,-0.30,-0.33,-0.37,-0.40,-0.43]],
  [0.1325, [-0.11,-0.14,-0.18,-0.21,-0.25,-0.28,-0.32,-0.35]]
];

const ORANGE = 'rgb(255,164,10)';
const BLUE = 'rgb(0,0,250)';

function toXY(pairs) {
  return pairs.map(([x, y]) => ({ x, y }));
}

function coreToXY(rows) {
  const out = [];
  rows.forEach(([x, ys]) => ys.forEach(y => out.push({ x, y })));
  return out;
}

// MATLAB-like inward tick marks
const innerTicks = {
  id: 'innerTicks',
  afterDatasetsDraw(chart) {
    const { ctx, chartArea: a, scales: { x, y } } = chart;
    ctx.save();
    ctx.strokeStyle = '#4a4a4a';
    ctx.lineWidth = 1;
    ctx.beginPath();
    xTicks.forEach(v => {
      const px = Math.round(x.getPixelForValue(v)) + 0.5;
      ctx.moveTo(px, a.bottom);
      ctx.lineTo(px, a.bottom - 6);
    });
    yTicks.forEach(v => {
      const py = Math.round(y.getPixelForValue(v)) + 0.5;
      ctx.moveTo(a.left, py);
      ctx.lineTo(a.left + 6, py);
    });
    ctx.stroke();
    ctx.restore();
  }
};

// boxed legend in the top right corner of the axes
const boxLegend = {
  id: 'boxLegend',
  afterDraw(chart) {
    const { ctx, chartArea: a } = chart;
    const w = 369, h = 63;
    const left = a.right - 17 - w, top = a.top + 17;
    ctx.save();
    ctx.fillStyle = '#fff';
    ctx.fillRect(left, top, w, h);
    ctx.strokeStyle = '#333';
    ctx.lineWidth = 1;
    ctx.strokeRect(left + 0.5, top + 0.5, w, h);
    ctx.font = '22px "Liberation Sans", Arial, sans-serif';
    ctx.textBaseline = 'middle';
    chart.data.datasets.forEach((ds, i) => {
      const cy = top + 16 + i * 29;
      ctx.beginPath();
      ctx.arc(left + 31, cy, 5.3, 0, Math.PI * 2);
      ctx.strokeStyle = ds.borderColor;
      ctx.lineWidth = 1.4;
      ctx.stroke();
      ctx.fillStyle = '#111';
      ctx.fillText(ds.label, left + 63, cy + 1);
    });
    ctx.restore();
  }
};

const tickFont = { family: '"Liberation Sans", Arial, sans-serif', size: 23 };
const titleFont = { family: '"Liberation Sans", Arial, sans-serif', size: 27, lineHeight: 1.1 };

new Chart(document.getElementById('scatterChart'), {
  type: 'scatter',
  data: {
    datasets: [
      {
        label: seriesLabels[0],
        data: toXY(mle3Outer.concat(mle3Dense)),
        borderColor: ORANGE,
        backgroundColor: 'rgba(0,0,0,0)',
        order: 2
      },
      {
        label: seriesLabels[1],
        data: toXY(whalesOuter).concat(coreToXY(whalesCore), coreToXY(whalesCoreFill)),
        borderColor: BLUE,
        backgroundColor: 'rgba(0,0,0,0)',
        order: 1
      }
    ]
  },
  options: {
    responsive: false,
    animation: false,
    events: [],
    layout: { padding: { left: 0, right: 19, top: 15, bottom: 0 } },
    elements: { point: { radius: 5.3, hoverRadius: 5.3, borderWidth: 1.45, pointStyle: 'circle' } },
    plugins: { legend: { display: false }, tooltip: { enabled: false } },
    scales: {
      x: {
        type: 'linear',
        min: -0.4,
        max: 0.4,
        afterBuildTicks: s => { s.ticks = xTicks.map(v => ({ value: v })); },
        afterFit: s => { s.height = 74; s.paddingLeft = 0; s.paddingRight = 0; },
        grid: { display: false, drawTicks: false },
        border: { display: true, color: '#5a5a5a', width: 1 },
        ticks: {
          padding: 10,
          color: '#262626',
          font: tickFont,
          maxRotation: 0,
          callback: v => String(Math.round(v * 10) / 10)
        },
        title: {
          display: true,
          text: 'Error on Epoch from simulation (m)',
          color: '#262626',
          font: titleFont,
          padding: { top: 0, bottom: 0 }
        }
      },
      y: {
        type: 'linear',
        min: -2,
        max: 2.5,
        afterBuildTicks: s => { s.ticks = yTicks.map(v => ({ value: v })); },
        afterFit: s => { s.width = 99; s.paddingTop = 0; s.paddingBottom = 0; },
        grid: { display: false, drawTicks: false },
        border: { display: true, color: '#5a5a5a', width: 1 },
        ticks: {
          padding: 11,
          color: '#262626',
          font: tickFont,
          callback: v => String(Math.round(v * 10) / 10)
        },
        title: {
          display: true,
          text: 'Error on SWH from simulation (m)',
          color: '#262626',
          font: titleFont,
          padding: { top: 10, bottom: 0 }
        }
      }
    }
  },
  plugins: [innerTicks, boxLegend]
});
</script>
</body>
</html>
